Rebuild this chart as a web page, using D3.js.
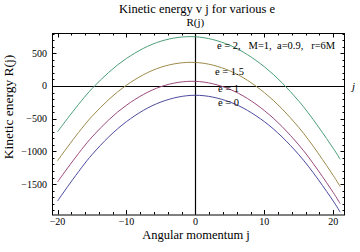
<!DOCTYPE html>
<html>
<head>
<meta charset="utf-8">
<script src="https://cdn.jsdelivr.net/npm/d3@7"></script>
<style>
  body { margin: 0; background: #fff; }
  svg { display: block; font-family: "Liberation Serif", "DejaVu Serif", serif; }
</style>
</head>
<body>
<svg id="chart" width="360" height="252"></svg>
<script>
// Angular momentum j (sample points)
const jValues = [-20, -15, -10, -5, 0, 5, 10, 15, 20, 21];

// Kinetic energy R(j) for each e
const energyE0  = [-1760, -1050, -545, -245, -142, -245, -545, -1050, -1760, -1930];
const energyE1  = [-1468, -780, -294, -10, 71, -51, -375, -901, -1630, -1800];
const energyE15 = [-1143, -464, 12, 287, 360, 231, -101, -634, -1369, -1540];
const energyE2  = [-701, -41, 421, 685, 752, 622, 294, -231, -954, -1122];

const seriesNames  = ['e = 0', 'e = 1', 'e = 1.5', 'e = 2,   M=1,  a=0.9,   r=6M'];
const seriesColors = ['#4b4a9e', '#9c4a7c', '#9d8a4a', '#4c9e78'];

const xTicks = [-20, -10, 0, 10, 20];
const yTicks = [-1500, -1000, -500, 0, 500];

const series = [energyE0, energyE1, energyE15, energyE2].map((vals, i) => ({
    name: seriesNames[i],
    color: seriesColors[i],
    points: jValues.map((j, k) => ({ j: j, r: vals[k] }))
}));

const svg = d3.select('#chart');

const frame = { left: 52, right: 345, top: 33, bottom: 214.5 };

const x = d3.scaleLinear().domain([-20.8, 21.7]).range([frame.left, frame.right]);
const y = d3.scaleLinear().domain([-1965, 810]).range([frame.bottom, frame.top]);

// minor ticks
const xMinor = d3.range(-20, 22, 2).filter(v => !xTicks.includes(v));
const yMinor = d3.range(-1900, 801, 100).filter(v => !yTicks.includes(v));

const tickG = svg.append('g').attr('stroke', '#000').attr('stroke-width', 1);

function vTicks(vals, len) {
    vals.forEach(v => {
        const px = Math.round(x(v)) + 0.5;
        tickG.append('line').attr('x1', px).attr('x2', px)
            .attr('y1', frame.bottom).attr('y2', frame.bottom - len);
        tickG.append('line').attr('x1', px).attr('x2', px)
            .attr('y1', frame.top).attr('y2', frame.top + len);
    });
}
function hTicks(vals, len) {
    vals.forEach(v => {
        const py = Math.round(y(v)) + 0.5;
        tickG.append('line').attr('y1', py).attr('y2', py)
            .attr('x1', frame.left).attr('x2', frame.left + len);
        tickG.append('line').attr('y1', py).attr('y2', py)
            .attr('x1', frame.right).attr('x2', frame.right - len);
    });
}
vTicks(xTicks, 4.5);
vTicks(xMinor, 2.5);
hTicks(yTicks, 4.5);
hTicks(yMinor, 2.5);

// axes through the origin
svg.append('line')
    .attr('x1', frame.left).attr('x2', frame.right)
    .attr('y1', Math.round(y(0)) + 0.5).attr('y2', Math.round(y(0)) + 0.5)
    .attr('stroke', '#000').attr('stroke-width', 1.2);
svg.append('line')
    .attr('x1', Math.round(x(0)) + 0.5).attr('x2', Math.round(x(0)) + 0.5)
    .attr('y1', frame.top).attr('y2', frame.bottom)
    .attr('stroke', '#000').attr('stroke-width', 1.2);

// curves
const line = d3.line()
    .x(d => x(d.j))
    .y(d => y(d.r))
    .curve(d3.curveCatmullRom.alpha(0.5));

svg.append('g')
    .selectAll('path')
    .data(series)
    .join('path')
    .attr('d', d => line(d.points))
    .attr('fill', 'none')
    .attr('stroke', d => d.color)
    .attr('stroke-width', 1);

// frame
svg.append('rect')
    .attr('x', frame.left + 0.5).attr('y', frame.top + 0.5)
    .attr('width', frame.right - frame.left - 1)
    .attr('height', frame.bottom - frame.top)
    .attr('fill', 'none').attr('stroke', '#000').attr('stroke-width', 1);

// tick labels
svg.append('g')
    .selectAll('text')
    .data(xTicks)
    .join('text')
    .attr('x', d => x(d))
    .attr('y', 225)
    .attr('text-anchor', 'middle')
    .attr('font-size', 10)
    .text(d => d < 0 ? '\u2212' + Math.abs(d) : d);

svg.append('g')
    .selectAll('text')
    .data(yTicks)
    .join('text')
    .attr('x', 47)
    .attr('y', d => y(d) + 3.5)
    .attr('text-anchor', 'end')
    .attr('font-size', 10)
    .text(d => d < 0 ? '\u2212' + Math.abs(d) : d);

// series labels inside the plot
const labelPos = [
    { x: 218, y: 106 },
    { x: 218, y: 92 },
    { x: 215, y: 74.5 },
    { x: 217, y: 48.5 }
];
svg.append('g')
    .selectAll('text')
    .data(series)
    .join('text')
    .attr('x', (d, i) => labelPos[i].x)
    .attr('y', (d, i) => labelPos[i].y)
    .attr('font-size', 10.5)
    .style('white-space', 'pre')
    .text(d => d.name);

// titles and axis labels
svg.append('text')
    .attr('x', 197).attr('y', 13)
    .attr('text-anchor', 'middle')
    .attr('font-size', 12.5)
    .text('Kinetic energy v j for various e');

svg.append('text')
    .attr('x', x(0)).attr('y', 26)
    .attr('text-anchor', 'middle')
    .attr('font-size', 11)
    .text('R(j)');

svg.append('text')
    .attr('x', 352).attr('y', y(0) + 4)
    .attr('font-size', 11)
    .attr('font-style', 'italic')
    .text('j');

svg.append('text')
    .attr('x', 196).attr('y', 239)
    .attr('text-anchor', 'middle')
    .attr('font-size', 12.5)
    .text('Angular momentum j');

svg.append('text')
    .attr('transform', 'translate(13,107) rotate(-90)')
    .attr('text-anchor', 'middle')
    .attr('font-size', 13.5)
    .text('Kinetic energy  R(j)');
</script>
</body>
</html>
